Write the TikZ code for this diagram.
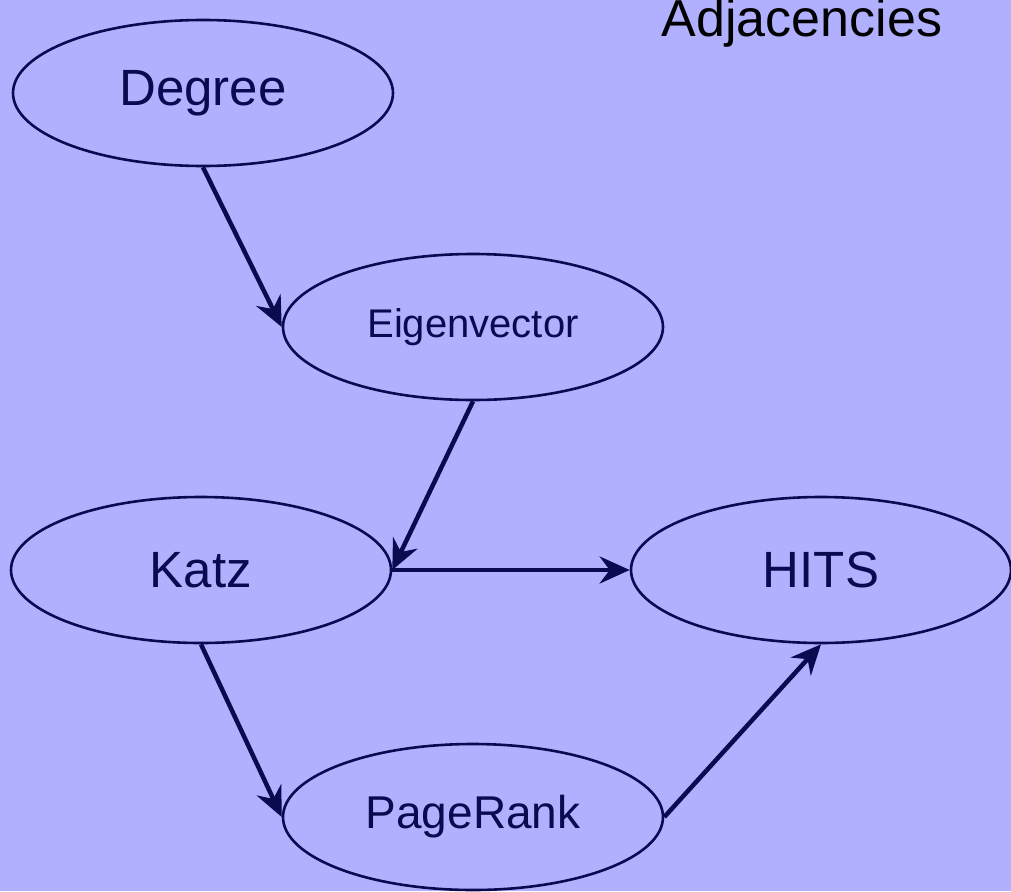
\documentclass[tikz,border=0pt]{standalone}
\usepackage{fontspec}
\setmainfont{Liberation Sans}
\usetikzlibrary{shapes.geometric,arrows.meta}
\definecolor{bgblue}{RGB}{176,176,255}
\definecolor{navy}{RGB}{10,10,80}
\begin{document}
\begin{tikzpicture}[x=1pt,y=-1pt,
    measure/.style={ellipse,draw=navy,line width=2.6pt,text=navy,
      minimum width=380pt,minimum height=146pt,inner sep=0pt},
    link/.style={-{Stealth[length=30pt,width=27pt,inset=10pt]},navy,line width=4.5pt}]
  \useasboundingbox (0,0) rectangle (1011,891);
  \clip (0,0) rectangle (1011,891);
  \fill[bgblue] (0,0) rectangle (1011,891);

  % centrality measures
  \node[measure,font=\fontsize{51}{60}\selectfont] (degree) at (203,93) {Degree};
  \node[measure,font=\fontsize{40}{48}\selectfont] (eigen) at (473,327) {Eigenvector};
  \node[measure,font=\fontsize{51}{60}\selectfont] (katz) at (201,570) {Katz};
  \node[measure,font=\fontsize{51}{60}\selectfont] (hits) at (821,570) {HITS};
  \node[measure,font=\fontsize{46}{55}\selectfont] (pagerank) at (473,817) {PageRank};
  \node[anchor=base,font=\fontsize{52}{62}\selectfont] (title) at (802,37) {Adjacencies};

  % extensions
  \draw[link] (degree.south) -- (eigen.west);
  \draw[link] (eigen.south) -- (katz.east);
  \draw[link] (katz.east) -- (hits.west);
  \draw[link] (katz.south) -- (pagerank.west);
  \draw[link] (pagerank.east) -- (hits.south);
\end{tikzpicture}
\end{document}
